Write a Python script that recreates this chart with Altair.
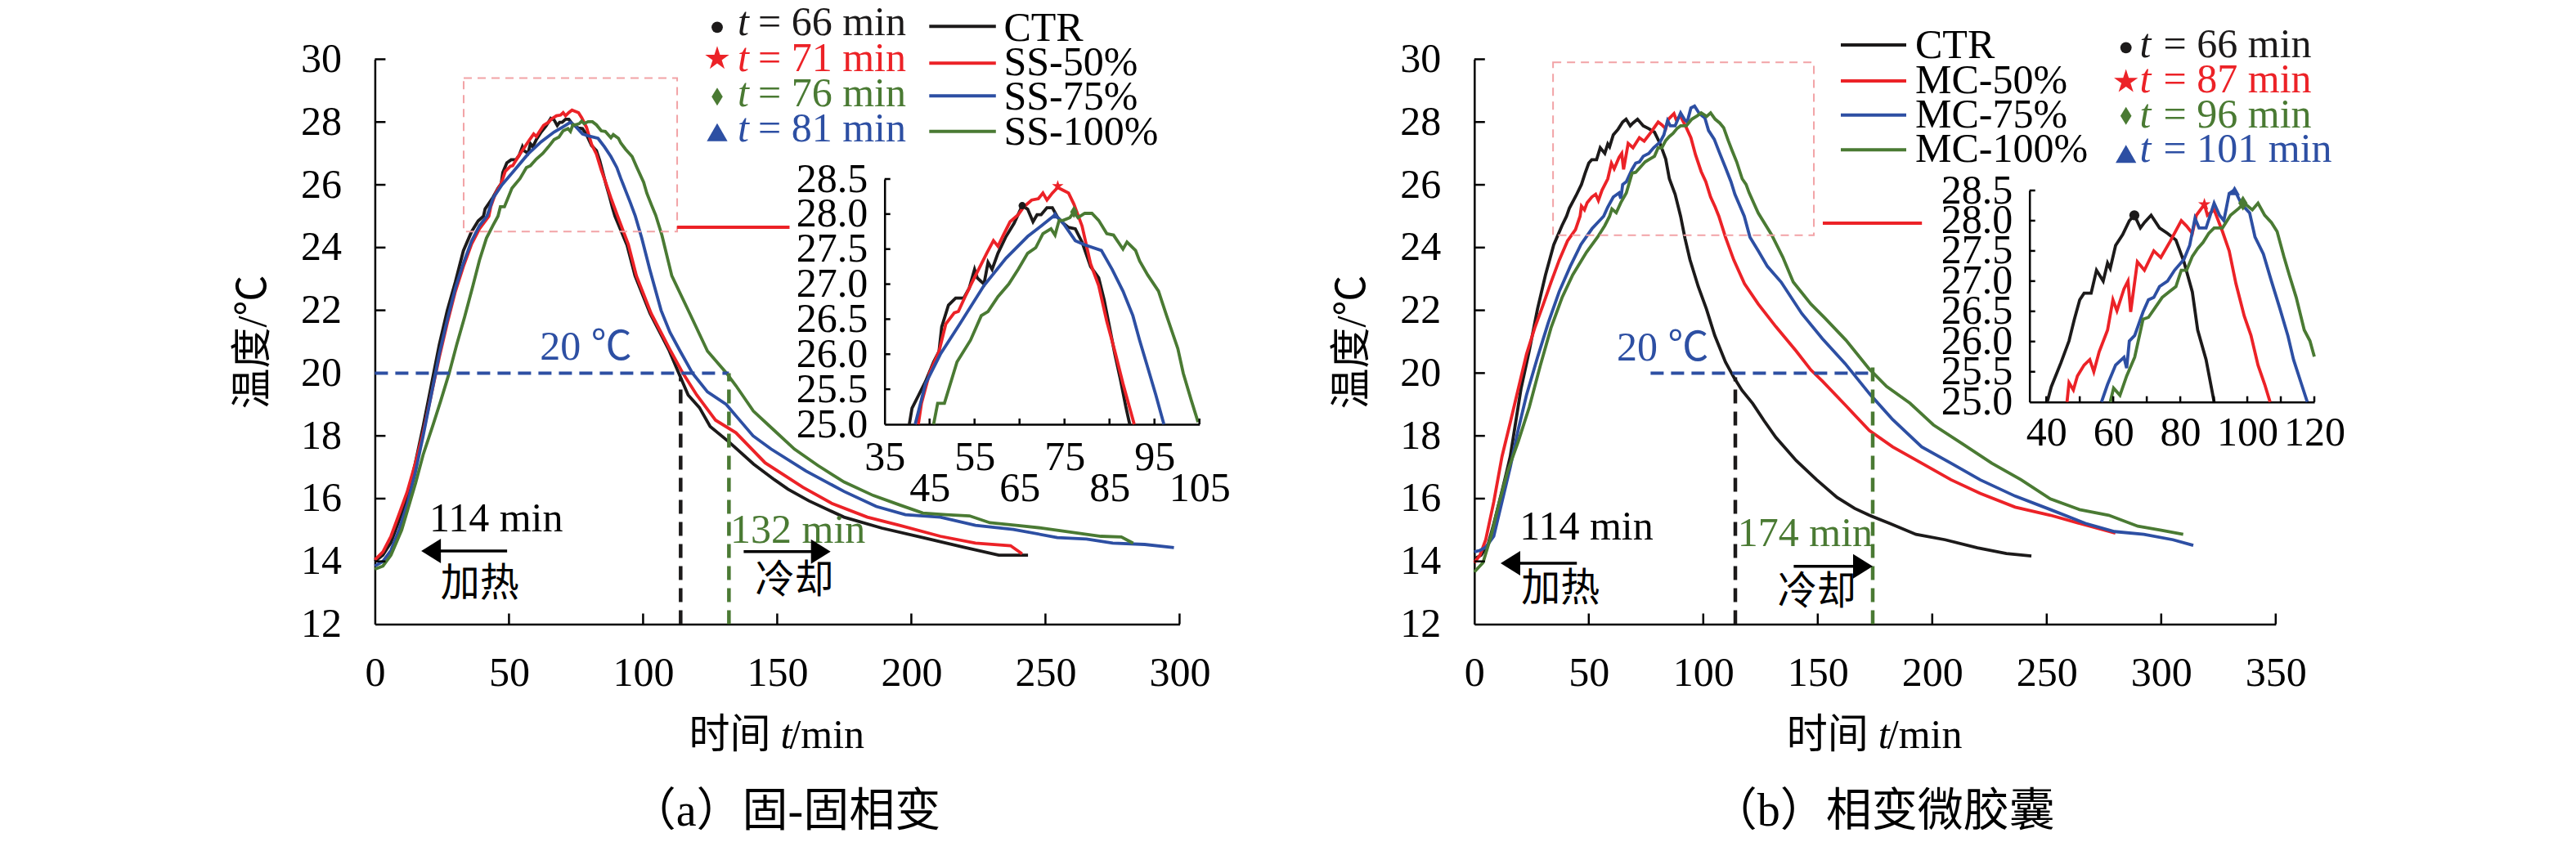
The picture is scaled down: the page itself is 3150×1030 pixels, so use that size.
import altair as alt
import pandas as pd

FONT = "'Liberation Serif', 'Times New Roman', 'Noto Sans CJK SC', serif"
C_BLACK = "#1c1a1a"
C_RED = "#ec2227"
C_BLUE = "#2d4fa3"
C_GREEN = "#4a7a33"
PINK = "#f2a3a6"

# ---------------- data: (time min, temperature degC) ----------------
A_CTR = [(0,14.0),(3,14.2),(6,14.6),(9,15.3),(12,16.0),(15,17.1),(18,18.3),(21,19.6),(24,20.9),(27,22.0),(30,22.9),(33,23.9),(36,24.5),(38.5,24.85),
         (40.5,25.0),(41.1,25.23),(42.6,25.42),(44.1,25.61),(45.9,25.89),(47.1,26.04),(47.7,26.39),(49.2,26.7),(50.8,26.8),(52.6,26.8),(53.8,26.94),(55.0,27.21),(55.6,27.09),(57.1,27.0),(58.0,27.31),(58.9,27.21),(60.2,27.44),(62.0,27.68),(63.8,27.87),(65.6,28.12),(66.8,28.07),(68.0,27.89),(68.9,27.99),(69.8,27.99),(71.1,28.09),(72.3,28.09),(73.5,27.95),(74.7,27.87),(75.9,27.81),(77.4,27.79),(78.9,27.6),(80.8,27.25),(82.6,27.09),(83.8,26.78),(85.0,26.39),(86.2,26.0),(87.4,25.65),(88.6,25.26),(89.5,25.0),
         (94.0,24.08),(97.0,23.1),(102.6,21.9),(109.7,20.72),(113.3,20.0),(116.8,19.3),(121,18.9),(125.0,18.3),(132.1,17.8),(141.2,17.1),(149,16.6),(154,16.3),(161.8,15.93),(174.9,15.41),(189,15.06),(204.3,14.76),(219.5,14.45),(232.6,14.2),(243.5,14.2)]
A_SS50 = [(0,14.05),(3,14.3),(6,14.8),(9,15.5),(12,16.2),(15,17.1),(18,18.1),(21,19.3),(24,20.5),(27,21.6),(30,22.6),(33,23.4),(36,24.1),(39,24.6),
          (42.5,25.0),(43.2,25.3),(45.0,25.73),(47.1,26.04),(48.6,26.43),(50.5,26.59),(51.4,26.61),(52.9,26.82),(54.4,27.02),(55.9,27.21),(57.7,27.44),(59.2,27.62),(60.2,27.54),(61.4,27.7),(62.9,27.89),(64.7,27.99),(65.9,28.1),(67.7,28.2),(69.2,28.22),(70.2,28.3),(71.1,28.2),(72.3,28.3),(73.5,28.38),(74.7,28.34),(75.9,28.3),(77.1,28.14),(78.9,27.83),(80.8,27.29),(82.6,26.98),(84.4,26.47),(86.2,26.04),(88.0,25.58),(90.5,25.0),
          (94.5,24.1),(97.5,23.1),(103,21.9),(110,20.75),(114.8,20.0),(120,19.3),(127,18.5),(134.6,18.1),(145.5,17.14),(159.6,16.36),(170.5,15.84),(183.6,15.41),(195.6,15.15),(210.8,14.8),(223.9,14.58),(237,14.5),(241.3,14.24)]
A_SS75 = [(0,13.85),(3,14.0),(6,14.35),(9,15.0),(12,15.8),(15,16.8),(18,18.0),(21,19.3),(24,20.6),(27,21.7),(30,22.7),(33,23.5),(36,24.2),(39,24.7),
          (41.8,25.0),(44.1,25.58),(47.4,26.0),(51.7,26.43),(57.1,26.98),(62.0,27.37),(66.8,27.68),(69.8,27.83),(72.9,27.99),(74.7,27.87),(77.4,27.62),(79.5,27.56),(83.2,27.48),(85.6,27.21),(88.0,26.9),(90.2,26.55),(91.7,26.2),(93.5,25.81),(95.3,25.42),(97.1,25.0),
          (99.5,24.3),(102.5,23.3),(106.7,22.0),(110,21.3),(113.8,20.7),(118.4,20.0),(124,19.4),(131,19.0),(135,18.6),(141,18.0),(147.7,17.58),(160.7,16.88),(174.9,16.23),(186.9,15.75),(197.8,15.49),(210.8,15.41),(223.9,15.15),(238,15.02),(254.4,14.76),(265.3,14.71),(275.1,14.58),(287,14.54),(297.9,14.44)]
A_SS100 = [(0,13.75),(3,13.85),(6,14.2),(10,15.0),(15.2,16.5),(18,17.4),(21.5,18.3),(24.5,19.1),(27.7,20.0),(30.5,20.9),(33.5,21.8),(36.6,22.8),(39,23.6),(41.6,24.3),(44,24.7),
           (45.9,25.0),(46.8,25.3),(48.3,25.3),(51.1,25.89),(54.1,26.2),(56.5,26.55),(58.0,26.61),(60.2,26.82),(62.6,27.0),(64.7,27.21),(66.8,27.44),(68.6,27.52),(70.2,27.72),(72.0,27.79),(72.9,27.7),(73.8,27.91),(74.7,27.91),(76.2,27.95),(77.1,28.03),(78.0,27.95),(79.5,28.01),(81.1,28.01),(82.6,27.91),(84.4,27.72),(85.9,27.7),(88.0,27.5),(88.9,27.6),(90.8,27.48),(91.7,27.33),(93.5,27.13),(95.9,26.9),(97.7,26.55),(100.2,26.08),(101.4,25.73),(103.2,25.34),(104.7,25.03),
           (107,24.4),(110.7,23.1),(117.4,21.9),(124,20.7),(131.1,20.0),(134.6,19.6),(141.1,18.79),(148.8,18.18),(156.4,17.58),(165.1,17.06),(174.9,16.53),(185.8,16.1),(195.6,15.8),(204.3,15.54),(213,15.49),(221.7,15.45),(229.3,15.23),(239.1,15.15),(248.9,15.06),(259.8,14.93),(270.7,14.8),(278.3,14.78),(282.7,14.58)]

B_CTR = [(0,14.08),(3,14.2),(6.1,14.56),(8.5,15.2),(10.9,15.89),(13.3,16.6),(15.7,17.34),(18,18.4),(20.4,19.5),(24,20.71),(27.6,22.04),(31.1,23.13),(34.7,24.09),(38.3,24.7),
         (40.3,25.0),(41.5,25.25),(44.4,25.65),(46.8,26.01),(48.4,26.37),(50,26.69),(51.3,26.8),(53.4,26.8),(55,27.18),(57,27.0),(58.3,27.3),(59.1,27.21),(60.7,27.59),(62.8,27.77),(64.8,28.0),(66.3,28.09),(68.1,27.88),(69.3,27.97),(71.3,28.09),(73.8,27.88),(76.2,27.79),(78.7,27.68),(81.1,27.32),(83.6,26.82),(85.2,26.19),(87.7,25.7),(90.1,25.0),
         (92,24.3),(94.2,23.61),(97.8,22.76),(101.4,22.04),(105,21.2),(109.7,20.35),(113.3,19.87),(116.9,19.45),(121.6,19.03),(126.4,18.5),(131.7,17.95),(140.6,17.21),(149.5,16.6),(158.4,16.04),(166.1,15.69),(172.5,15.47),(181.4,15.21),(192.9,14.86),(205.6,14.69),(219.7,14.43),(232.4,14.25),(243.3,14.17)]
B_MC50 = [(0,13.96),(2.5,14.2),(5,14.69),(8.5,15.89),(12.1,17.34),(15.7,18.42),(19.2,19.5),(22.8,20.6),(26.4,21.44),(30,22.16),(33.5,22.89),(37.1,23.6),(40.7,24.21),(44.2,24.57),
          (46.2,25.0),(46.8,25.32),(48.1,25.2),(49.3,25.43),(51.3,25.61),(53,25.7),(54.2,25.5),(55.8,25.83),(58.3,26.19),(59.9,26.69),(61.1,26.51),(63.2,26.87),(64.4,27.0),(65.2,26.49),(67.2,27.32),(69.3,27.18),(72.1,27.5),(74.2,27.39),(77,27.66),(80.3,28.0),(81.9,27.91),(83.6,27.79),(84.8,28.09),(87.2,28.27),(88.1,28.09),(90.1,28.18),(92.6,27.82),(94.6,27.5),(96.6,26.96),(99.1,26.42),(101.1,26.1),(103.2,25.61),(105.2,25.29),(106.8,25.0),
          (109.7,24.33),(113.3,23.61),(118,22.85),(124,22.2),(131.7,21.48),(140.6,20.7),(147,20.1),(152.1,19.74),(162.3,18.96),(172.5,18.17),(182.7,17.65),(195.4,17.13),(208.2,16.6),(220.9,16.17),(236.2,15.73),(251.6,15.47),(264.3,15.21),(280,14.9)]
B_MC75 = [(0,14.3),(2.5,14.35),(5,14.45),(8.5,14.8),(12.1,15.9),(15.7,17.0),(19.2,18.2),(22.8,19.3),(27.6,20.5),(32.3,21.6),(37.1,22.6),(41.9,23.4),(46.6,24.1),(51.4,24.6),
          (56.5,25.0),(58.3,25.29),(60.7,25.61),(63.2,25.74),(64,25.56),(64.8,26.01),(66.4,26.1),(68.9,26.49),(70.5,26.69),(72.1,26.73),(73.8,26.91),(76.2,27.0),(78.3,27.18),(81.1,27.36),(82.8,27.59),(84.4,28.04),(85.6,27.88),(87.7,27.88),(90.1,28.29),(91.7,28.09),(93,28.0),(94.6,28.45),(96.2,28.51),(98.3,28.27),(100.7,28.13),(102.3,27.73),(104.8,27.45),(107.2,27.0),(109.7,26.55),(112.1,26.1),(113.8,25.7),(116.2,25.29),(117.9,25.0),
          (120.4,24.33),(124,23.9),(128,23.4),(134,22.9),(143,21.9),(152,21.1),(162,20.3),(172.5,19.35),(182.7,18.52),(195.4,17.65),(208.2,17.13),(220.9,16.6),(236.2,16.08),(251.6,15.65),(266.9,15.21),(279.6,14.95),(292.4,14.86),(305.1,14.69),(314,14.51)]
B_MC100 = [(0,13.66),(3.8,13.96),(7.3,14.8),(10.9,15.89),(14.5,16.86),(19.2,17.82),(24,18.91),(28.8,20.23),(33.5,21.44),(38.3,22.4),(43,23.13),(49,23.85),(53.8,24.33),(57,24.7),
           (59.1,25.0),(60.1,25.23),(62,25.11),(64,25.43),(66.4,25.74),(68.9,26.37),(70.5,26.4),(73,26.6),(74.6,26.73),(76.6,26.82),(78.7,26.91),(80.3,27.18),(81.9,27.18),(83.6,27.41),(85.2,27.54),(86.8,27.64),(88.5,27.79),(90.1,27.88),(92.6,27.88),(95,28.09),(97.4,28.2),(99.1,28.29),(101.5,28.18),(103.2,28.29),(105.2,28.09),(107.2,27.97),(108.9,27.82),(110.9,27.41),(112.6,27.09),(114.6,26.73),(117,26.19),(118.7,26.01),(120,25.75),
           (124,25.1),(129.9,24.4),(134.7,23.7),(139.3,22.9),(147,22.2),(153.3,21.74),(162.3,21.05),(172.5,20.13),(180.1,19.57),(190.3,19.04),(200.5,18.35),(213.3,17.74),(226,17.13),(238.8,16.6),(251.6,15.99),(264.3,15.65),(277.1,15.47),(289.8,15.12),(300,14.99),(309.6,14.86)]

# highlighted peak points (series, time, temperature)
A_PEAKS = [("CTR", 65.6, 28.12), ("SS-50%", 73.5, 28.40), ("SS-100%", 77.1, 28.03), ("SS-75%", 72.9, 27.99)]
B_PEAKS = [("CTR", 66.3, 28.09), ("MC-50%", 87.2, 28.27), ("MC-100%", 98.7, 28.29), ("MC-75%", 96.2, 28.5)]
A_PEAK_LABELS = ["= 66 min", "= 71 min", "= 76 min", "= 81 min"]
B_PEAK_LABELS = ["= 66 min", "= 87 min", "= 96 min", "= 101 min"]

SERIES = ["CTR", "SS-50%", "SS-75%", "SS-100%", "MC-50%", "MC-75%", "MC-100%"]
SERIES_COLORS = [C_BLACK, C_RED, C_BLUE, C_GREEN, C_RED, C_BLUE, C_GREEN]
STAR = "M0,-1L0.2245,-0.309L0.951,-0.309L0.363,0.118L0.588,0.809L0,0.382L-0.588,0.809L-0.363,0.118L-0.951,-0.309L-0.2245,-0.309Z"
DIAMOND = "M0,-1L0.62,0L0,1L-0.62,0Z"
SERIES_SHAPES = ["circle", STAR, "triangle-up", DIAMOND, STAR, "triangle-up", DIAMOND]
LEFT_ARROW = "M0,0L1.6,-1L1.6,1Z"
RIGHT_ARROW = "M0,0L-1.6,-1L-1.6,1Z"

H = 691
TOP = 72.5          # page y of the plot top
PAGE_W, PAGE_H = 3134, 1014

PANEL_A = dict(
    W=984, xmax=300, left=458.4,
    series={"CTR": A_CTR, "SS-50%": A_SS50, "SS-75%": A_SS75, "SS-100%": A_SS100},
    title="（a）固-固相变",
    box=(33.1, 112.7, 24.51, 29.4), link=(112.7, 154.6, 24.65),
    h20=(0, 132), vlines=[(114, 19.85, C_BLACK), (132, 20.0, C_GREEN)],
    t20=(78.7, 20.42), heat_txt=(20.3, 14.95), heat_cn=(39.1, 13.27),
    cool_txt=(132.5, 14.6, "132 min"), cool_cn=(156.4, 13.37),
    arrows=[(20, 49.3, 14.33, 17.3, LEFT_ARROW), (137.5, 167, 14.31, 169.9, RIGHT_ARROW)],
    ix=(35, 105), irx=(623.3, 1008.3), iry=(446.5, 146.5),
    ixv=[35, 45, 55, 65, 75, 85, 95, 105], ixt=[45, 55, 65, 75, 85, 95, 105],
    ilp={"condition": {"test": "datum.value % 20 == 5", "value": 53}, "value": 15},
    peaks=A_PEAKS, peak_sizes={"CTR": 80, "SS-50%": 220, "SS-100%": 230, "SS-75%": 110},
    legend=dict(
        lines_x=(1136.3, 1217.8), lines_y=[32.3, 77.3, 117.3, 160.7],
        lines_series=["CTR", "SS-50%", "SS-75%", "SS-100%"],
        names_x=1227.4, names_y=[50.0, 91.7, 134.0, 177.0],
        mk_x=877.0, mk_y=[33.3, 71.7, 118.3, 161.7],
        mk_series=["CTR", "SS-50%", "SS-100%", "SS-75%"],
        t_x=902.0, eq_x=927.0, t_y=[43.3, 87.3, 130.0, 173.3],
        labels=A_PEAK_LABELS,
    ),
)
PANEL_B = dict(
    W=980, xmax=350, left=1802.8,
    series={"CTR": B_CTR, "MC-50%": B_MC50, "MC-75%": B_MC75, "MC-100%": B_MC100},
    title="（b）相变微胶囊",
    box=(34.4, 148.3, 24.39, 29.9), link=(152.2, 195.5, 24.78),
    h20=(77, 174), vlines=[(114, 19.87, C_BLACK), (174, 20.3, C_GREEN)],
    t20=(82.3, 20.41), heat_txt=(19.8, 14.69), heat_cn=(37.7, 13.12),
    cool_txt=(115, 14.5, "174 min"), cool_cn=(149.6, 13.0),
    arrows=[(15, 44.8, 13.94, 11.5, LEFT_ARROW), (139.5, 171, 13.84, 174, RIGHT_ARROW)],
    ix=(35, 120), irx=(678.9, 1027.2), iry=(419.2, 160.5),
    ixv=[40, 60, 80, 100, 120], ixt=[40, 50, 60, 70, 80, 90, 100, 110, 120],
    ilp=13,
    peaks=B_PEAKS, peak_sizes={"CTR": 150, "MC-50%": 260, "MC-100%": 340, "MC-75%": 170},
    legend=dict(
        lines_x=(2251.0, 2331.0), lines_y=[55.0, 99.0, 140.7, 183.3],
        lines_series=["CTR", "MC-50%", "MC-75%", "MC-100%"],
        names_x=2342.0, names_y=[71.0, 113.5, 155.5, 197.5],
        mk_x=2599.7, mk_y=[58.3, 100.0, 141.7, 188.3],
        mk_series=["CTR", "MC-50%", "MC-100%", "MC-75%"],
        t_x=2616.5, eq_x=2645.6, t_y=[70.0, 113.0, 155.5, 197.5],
        labels=B_PEAK_LABELS,
    ),
)
LEGEND_MARK_SIZE = {"circle": 190, "star": 950, "diamond": 480, "triangle": 640}


def shape_key(name):
    if name == "CTR":
        return "circle"
    if name.endswith("-50%"):
        return "star"
    if name.endswith("-75%"):
        return "triangle"
    return "diamond"


def build_panel(p):
    W, XMAX = p["W"], p["xmax"]
    sx, sy = W / XMAX, H / 18.0

    def mx(px):
        return (px - p["left"]) / sx

    def my(py):
        return 30 - (py - TOP) / sy

    rows = []
    for name, pts in p["series"].items():
        for t, v in pts:
            rows.append({"series": name, "t": t, "temp": v})
    df = pd.DataFrame(rows)

    color = alt.Color("series:N", scale=alt.Scale(domain=SERIES, range=SERIES_COLORS), legend=None)
    shape = alt.Shape("series:N", scale=alt.Scale(domain=SERIES, range=SERIES_SHAPES), legend=None)

    X = alt.X("t:Q", scale=alt.Scale(domain=[0, XMAX], nice=False, zero=False),
              axis=alt.Axis(values=list(range(0, XMAX + 1, 50)), title="",
                            labelPadding=35, labelFlush=False, labelOverlap=False))
    Y = alt.Y("temp:Q", scale=alt.Scale(domain=[12, 30], nice=False, zero=False),
              axis=alt.Axis(values=list(range(12, 31, 2)), title="温度/℃",
                            labelPadding=41, titlePadding=33, labelOverlap=False))

    def txt(items, **kw):
        d = pd.DataFrame(items, columns=["t", "temp", "label"])
        return alt.Chart(d).mark_text(font=FONT, **kw).encode(x=X, y=Y, text="label:N")

    L = []
    L.append(alt.Chart(df).mark_line(strokeWidth=3.8).encode(x=X, y=Y, color=color))
    # inward ticks
    L.append(alt.Chart(pd.DataFrame({"t": list(range(50, XMAX + 1, 50))})).mark_rule(color="black", strokeWidth=2.5)
             .encode(x=X, y=alt.value(H), y2=alt.value(H - 13)))
    L.append(alt.Chart(pd.DataFrame({"temp": list(range(14, 31, 2))})).mark_rule(color="black", strokeWidth=2.5)
             .encode(y=Y, x=alt.value(0), x2=alt.value(13)))
    # zoom box and link
    b = p["box"]
    L.append(alt.Chart(pd.DataFrame({"t": [b[0]], "t2": [b[1]], "temp": [b[2]], "temp2": [b[3]]}))
             .mark_rect(fillOpacity=0, stroke=PINK, strokeWidth=2, strokeDash=[10, 7])
             .encode(x=X, x2="t2:Q", y=Y, y2="temp2:Q"))
    k = p["link"]
    L.append(alt.Chart(pd.DataFrame({"t": [k[0]], "t2": [k[1]], "temp": [k[2]]}))
             .mark_rule(color=C_RED, strokeWidth=4).encode(x=X, x2="t2:Q", y=Y))
    # 20 degC guide lines
    h0, h1 = p["h20"]
    L.append(alt.Chart(pd.DataFrame({"t": [h0], "t2": [h1], "temp": [20]}))
             .mark_rule(color=C_BLUE, strokeWidth=4, strokeDash=[16, 9]).encode(x=X, x2="t2:Q", y=Y))
    for t, top, col in p["vlines"]:
        L.append(alt.Chart(pd.DataFrame({"t": [t], "temp": [12], "temp2": [top]}))
                 .mark_rule(color=col, strokeWidth=4.5, strokeDash=[17, 10]).encode(x=X, y=Y, y2="temp2:Q"))
    # annotations
    L.append(txt([(p["t20"][0], p["t20"][1], "20 ℃")], fontSize=50, color=C_BLUE, align="center", baseline="alphabetic"))
    L.append(txt([(p["heat_txt"][0], p["heat_txt"][1], "114 min")], fontSize=50, color="black", align="left", baseline="alphabetic"))
    L.append(txt([(p["heat_cn"][0], p["heat_cn"][1], "加热")], fontSize=48, color="black", align="center", baseline="middle"))
    ct = p["cool_txt"]
    L.append(txt([(ct[0], ct[1], ct[2])], fontSize=50, color=C_GREEN, align="left", baseline="alphabetic"))
    L.append(txt([(p["cool_cn"][0], p["cool_cn"][1], "冷却")], fontSize=48, color="black", align="center", baseline="middle"))
    for a0, a1, ay, tip, path in p["arrows"]:
        L.append(alt.Chart(pd.DataFrame({"t": [a0], "t2": [a1], "temp": [ay]}))
                 .mark_rule(color="black", strokeWidth=3.5).encode(x=X, x2="t2:Q", y=Y))
        L.append(alt.Chart(pd.DataFrame({"t": [tip], "temp": [ay]}))
                 .mark_point(shape=path, filled=True, size=900, color="black", opacity=1, strokeWidth=0)
                 .encode(x=X, y=Y))
    # x-axis title (italic t) and panel caption, placed below the axis
    cap = pd.DataFrame({"label": ["时间", "t", "/min", p["title"]]})
    L.append(alt.Chart(cap).transform_filter("datum.label == '时间'")
             .mark_text(font=FONT, fontSize=50, align="right", baseline="alphabetic", color="black")
             .encode(text="label:N", x=alt.value(W / 2 - 8), y=alt.value(842.5)))
    L.append(alt.Chart(cap).transform_filter("datum.label == 't'")
             .mark_text(font=FONT, fontSize=50, fontStyle="italic", align="left", baseline="alphabetic", color="black")
             .encode(text="label:N", x=alt.value(W / 2 + 4), y=alt.value(842.5)))
    L.append(alt.Chart(cap).transform_filter("datum.label == '/min'")
             .mark_text(font=FONT, fontSize=50, align="left", baseline="alphabetic", color="black")
             .encode(text="label:N", x=alt.value(W / 2 + 15), y=alt.value(842.5)))
    L.append(alt.Chart(cap).transform_filter(alt.FieldOneOfPredicate(field="label", oneOf=[p["title"]]))
             .mark_text(font=FONT, fontSize=56, align="center", baseline="alphabetic", color="black")
             .encode(text="label:N", x=alt.value(W / 2 + 10), y=alt.value(937.0)))
    # legend
    g = p["legend"]
    seg = pd.DataFrame({"series": g["lines_series"], "t": [mx(g["lines_x"][0])] * 4,
                        "t2": [mx(g["lines_x"][1])] * 4, "temp": [my(v) for v in g["lines_y"]]})
    L.append(alt.Chart(seg).mark_rule(strokeWidth=4).encode(x=X, x2="t2:Q", y=Y, color=color))
    L.append(txt([(mx(g["names_x"]), my(v), s) for v, s in zip(g["names_y"], g["lines_series"])],
                 fontSize=50, color="black", align="left", baseline="alphabetic"))
    mk = pd.DataFrame({"series": g["mk_series"], "t": [mx(g["mk_x"])] * 4,
                       "temp": [my(v) for v in g["mk_y"]],
                       "sz": [LEGEND_MARK_SIZE[shape_key(s)] for s in g["mk_series"]]})
    L.append(alt.Chart(mk).mark_point(filled=True, opacity=1, strokeWidth=0)
             .encode(x=X, y=Y, color=color, shape=shape, size=alt.Size("sz:Q", scale=None)))
    tt = pd.DataFrame({"series": g["mk_series"], "t": [mx(g["t_x"])] * 4,
                       "temp": [my(v) for v in g["t_y"]], "label": ["t"] * 4})
    L.append(alt.Chart(tt).mark_text(font=FONT, fontSize=50, fontStyle="italic", align="left", baseline="alphabetic")
             .encode(x=X, y=Y, text="label:N", color=color))
    te = pd.DataFrame({"series": g["mk_series"], "t": [mx(g["eq_x"])] * 4,
                       "temp": [my(v) for v in g["t_y"]], "label": g["labels"]})
    L.append(alt.Chart(te).mark_text(font=FONT, fontSize=50, align="left", baseline="alphabetic")
             .encode(x=X, y=Y, text="label:N", color=color))

    # ---------- inset ----------
    ix0, ix1 = p["ix"]
    rx0, rx1 = p["irx"]
    ry0, ry1 = p["iry"]
    XI = alt.X("t:Q", scale=alt.Scale(domain=[ix0, ix1], range=[rx0, rx1], nice=False, zero=False),
               axis=alt.Axis(orient="bottom", offset=ry0 - H, values=p["ixv"], title="",
                             labelPadding=p["ilp"], labelFlush=False, labelOverlap=False))
    YI = alt.Y("temp:Q", scale=alt.Scale(domain=[25, 28.5], range=[ry0, ry1], nice=False, zero=False),
               axis=alt.Axis(orient="left", offset=-rx0, values=[25.0, 25.5, 26.0, 26.5, 27.0, 27.5, 28.0, 28.5],
                             format=".1f", title="", labelPadding=21, labelOverlap=False))
    pk = pd.DataFrame({"series": [q[0] for q in p["peaks"]], "t": [q[1] for q in p["peaks"]],
                       "temp": [q[2] for q in p["peaks"]],
                       "sz": [p["peak_sizes"][q[0]] for q in p["peaks"]]})
    I = [
        alt.Chart(df).transform_filter(f"datum.t >= {ix0} && datum.t <= {ix1} && datum.temp >= 25")
        .mark_line(strokeWidth=3.8).encode(x=XI, y=YI, color=color),
        alt.Chart(pk).mark_point(filled=True, opacity=1, strokeWidth=0)
        .encode(x=XI, y=YI, color=color, shape=shape, size=alt.Size("sz:Q", scale=None)),
        alt.Chart(pd.DataFrame({"t": p["ixt"]})).mark_rule(color="black", strokeWidth=2.5)
        .encode(x=XI, y=alt.value(ry0), y2=alt.value(ry0 - 7)),
        alt.Chart(pd.DataFrame({"temp": [25.5, 26.0, 26.5, 27.0, 27.5, 28.0, 28.5]})).mark_rule(color="black", strokeWidth=2.5)
        .encode(y=YI, x=alt.value(rx0), x2=alt.value(rx0 + 7)),
    ]

    return (alt.layer(alt.layer(*L), alt.layer(*I))
            .resolve_scale(x="independent", y="independent")
            .properties(width=W, height=H))


pa = build_panel(PANEL_A)
pb = build_panel(PANEL_B)
SPACING = PANEL_B["left"] - PANEL_A["left"] - PANEL_A["W"]
PAD_L = PANEL_A["left"] - 8
PAD_T = TOP - 8

chart = (alt.hconcat(pa, pb, spacing=SPACING, bounds="flush")
         .properties(autosize=alt.AutoSizeParams(type="none"),
                     padding={"left": PAD_L, "top": PAD_T, "right": PAGE_W - PAD_L, "bottom": PAGE_H - PAD_T})
         .configure_view(stroke=None)
         .configure_axis(domainColor="black", domainWidth=2.5, labelColor="black", titleColor="black",
                         grid=False, ticks=False, labelFont=FONT, titleFont=FONT,
                         labelFontSize=50, titleFontSize=50, titleFontWeight="normal"))

chart.save("out.html", embed_options={"renderer": "svg", "actions": False})
